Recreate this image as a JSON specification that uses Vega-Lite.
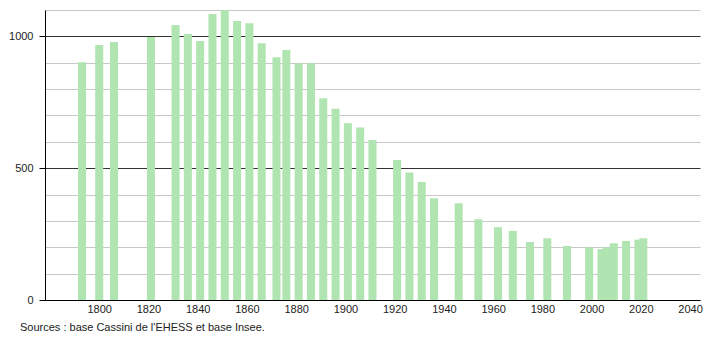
{
  "$schema": "https://vega.github.io/schema/vega-lite/v6.json",
  "autosize": {"type": "none"},
  "width": 655,
  "height": 290,
  "padding": {"left": 45, "top": 10, "right": 10, "bottom": 40},
  "background": "white",
  "config": {"view": {"stroke": null}, "font": "Liberation Sans"},
  "title": {
    "text": "Sources : base Cassini de l'EHESS et base Insee.",
    "orient": "bottom",
    "anchor": "start",
    "frame": "group",
    "dx": -25,
    "offset": 8,
    "fontSize": 11,
    "fontWeight": "normal",
    "color": "#222",
    "font": "Liberation Sans"
  },
  "data": {
    "values": [
      {"annee": 1793, "population": 902},
      {"annee": 1800, "population": 967},
      {"annee": 1806, "population": 979},
      {"annee": 1821, "population": 998},
      {"annee": 1831, "population": 1043},
      {"annee": 1836, "population": 1009},
      {"annee": 1841, "population": 982},
      {"annee": 1846, "population": 1085},
      {"annee": 1851, "population": 1100},
      {"annee": 1856, "population": 1058},
      {"annee": 1861, "population": 1050},
      {"annee": 1866, "population": 974},
      {"annee": 1872, "population": 921},
      {"annee": 1876, "population": 948},
      {"annee": 1881, "population": 898},
      {"annee": 1886, "population": 898},
      {"annee": 1891, "population": 765},
      {"annee": 1896, "population": 725},
      {"annee": 1901, "population": 670},
      {"annee": 1906, "population": 654},
      {"annee": 1911, "population": 607},
      {"annee": 1921, "population": 531},
      {"annee": 1926, "population": 484},
      {"annee": 1931, "population": 448},
      {"annee": 1936, "population": 386},
      {"annee": 1946, "population": 367},
      {"annee": 1954, "population": 306},
      {"annee": 1962, "population": 276},
      {"annee": 1968, "population": 262},
      {"annee": 1975, "population": 220},
      {"annee": 1982, "population": 234},
      {"annee": 1990, "population": 205},
      {"annee": 1999, "population": 199},
      {"annee": 2004, "population": 193},
      {"annee": 2006, "population": 199},
      {"annee": 2009, "population": 215},
      {"annee": 2014, "population": 224},
      {"annee": 2019, "population": 229},
      {"annee": 2021, "population": 234}
    ]
  },
  "mark": {"type": "bar", "size": 8, "color": "#b0e4b0"},
  "encoding": {
    "x": {
      "field": "annee",
      "type": "quantitative",
      "scale": {"domain": [1780, 2042], "nice": false, "zero": false},
      "axis": {
        "title": null,
        "values": [1800, 1820, 1840, 1860, 1880, 1900, 1920, 1940, 1960, 1980, 2000, 2020, 2040],
        "format": "d",
        "grid": false,
        "ticks": false,
        "labelPadding": 3,
        "labelFontSize": 11,
        "labelColor": "#222",
        "domainColor": "#000",
        "domainWidth": 1,
        "labelFlush": false,
        "labelOverlap": false
      }
    },
    "y": {
      "field": "population",
      "type": "quantitative",
      "scale": {"domain": [0, 1100], "nice": false},
      "axis": {
        "title": null,
        "values": [0, 100, 200, 300, 400, 500, 600, 700, 800, 900, 1000, 1100],
        "labelExpr": "datum.value % 500 === 0 ? datum.value : ''",
        "grid": true,
        "gridColor": {"condition": {"test": "datum.value % 500 === 0", "value": "#333"}, "value": "#c8c8c8"},
        "gridWidth": 1,
        "tickColor": {"condition": {"test": "datum.value % 500 === 0", "value": "#000"}, "value": "transparent"},
        "tickSize": 6,
        "labelPadding": 6,
        "labelFontSize": 11,
        "labelColor": "#222",
        "domainColor": "#000",
        "labelFlush": false,
        "labelOverlap": false
      }
    }
  }
}
